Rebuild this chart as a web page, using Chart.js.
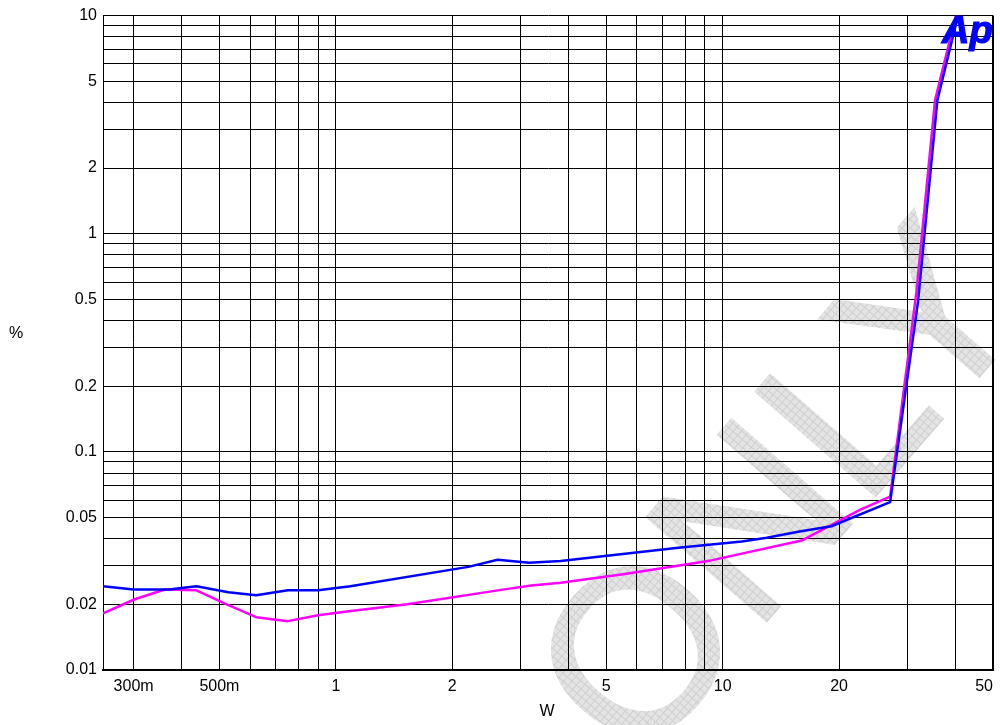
<!DOCTYPE html>
<html>
<head>
<meta charset="utf-8">
<script src="https://cdn.jsdelivr.net/npm/chart.js@4.4.1/dist/chart.umd.min.js"></script>
<style>
  html, body { margin: 0; padding: 0; background: #fff; }
</style>
</head>
<body>
<canvas id="chart" width="1000" height="725"></canvas>
<script>
// power sweep, THD+N (%) vs output power (W)
const blueW   = [0.25, 0.30, 0.37, 0.436, 0.527, 0.622, 0.752, 0.899, 1.09, 2.20, 2.62, 3.16, 3.81, 7.68, 11.2, 13.0, 15.8, 19.1, 27.1, 32.0, 35.9, 40.6];
const bluePct = [0.0242, 0.0234, 0.0234, 0.0242, 0.0227, 0.0220, 0.0232, 0.0232, 0.0242, 0.0297, 0.0320, 0.0310, 0.0316, 0.0363, 0.0388, 0.0404, 0.0431, 0.0456, 0.0588, 0.489, 4.09, 10.0];

const pinkW   = [0.25, 0.302, 0.361, 0.436, 0.515, 0.622, 0.752, 0.899, 1.08, 1.53, 2.675, 3.20, 3.81, 5.53, 9.34, 16.0, 22.7, 27.1, 31.7, 35.4, 40.1];
const pinkPct = [0.0182, 0.0211, 0.0234, 0.0232, 0.0202, 0.01746, 0.01675, 0.01783, 0.0186, 0.0200, 0.0233, 0.0244, 0.0251, 0.0275, 0.0318, 0.0392, 0.0543, 0.0623, 0.543, 4.09, 10.0];

// grid lines and labelled ticks
const xGrid = [0.25, 0.3, 0.4, 0.5, 0.6, 0.7, 0.8, 0.9, 1, 2, 3, 4, 5, 6, 7, 8, 9, 10, 20, 30, 40, 50];
const xLabelled = { 0.3: '300m', 0.5: '500m', 1: '1', 2: '2', 5: '5', 10: '10', 20: '20', 50: '50' };
const yGrid = [0.01, 0.02, 0.03, 0.04, 0.05, 0.06, 0.07, 0.08, 0.09, 0.1, 0.2, 0.3, 0.4, 0.5, 0.6, 0.7, 0.8, 0.9, 1, 2, 3, 4, 5, 6, 7, 8, 9, 10];
const yLabelled = { 0.01: '0.01', 0.02: '0.02', 0.05: '0.05', 0.1: '0.1', 0.2: '0.2', 0.5: '0.5', 1: '1', 2: '2', 5: '5', 10: '10' };

const FONT = '"Liberation Sans", Arial, sans-serif';

function pts(xs, ys) {
  return xs.map((x, i) => ({ x: x, y: ys[i] }));
}

// hatched light grey fill for the watermark
function hatch() {
  const c = document.createElement('canvas');
  c.width = 6; c.height = 6;
  const g = c.getContext('2d');
  g.fillStyle = '#e4e4e4';
  g.fillRect(0, 0, 6, 6);
  g.fillStyle = '#cfcfcf';
  g.fillRect(0, 0, 6, 1);
  g.fillRect(0, 0, 1, 6);
  return c;
}

const decor = {
  id: 'decor',
  beforeDraw(chart) {
    const ctx = chart.ctx;
    ctx.save();
    ctx.fillStyle = '#fff';
    ctx.fillRect(0, 0, chart.width, chart.height);
    // watermark
    ctx.translate(637, 770);
    ctx.rotate(-49 * Math.PI / 180);
    ctx.font = '230px ' + FONT;
    const pat = ctx.createPattern(hatch(), 'repeat');
    ctx.fillStyle = pat;
    ctx.strokeStyle = pat;
    ctx.lineWidth = 3;
    ctx.textBaseline = 'alphabetic';
    ctx.textAlign = 'left';
    ctx.fillText('ONLY', 0, 0);
    ctx.strokeText('ONLY', 0, 0);
    ctx.restore();
  },
  afterDraw(chart) {
    const ctx = chart.ctx;
    ctx.save();
    ctx.fillStyle = '#000';
    ctx.font = '16px ' + FONT;
    ctx.textAlign = 'center';
    ctx.textBaseline = 'middle';
    ctx.fillText('%', 16, 334);
    ctx.fillText('W', 547, 712);
    // Ap logo
    ctx.fillStyle = '#0000ff';
    ctx.strokeStyle = '#0000ff';
    ctx.lineWidth = 1.2;
    ctx.font = 'italic bold 38px ' + FONT;
    ctx.textAlign = 'left';
    ctx.textBaseline = 'alphabetic';
    ctx.fillText('Ap', 942, 43);
    ctx.strokeText('Ap', 942, 43);
    ctx.restore();
  }
};

new Chart(document.getElementById('chart'), {
  type: 'line',
  data: {
    datasets: [
      { data: pts(blueW, bluePct), borderColor: '#0000ff', borderWidth: 2.5 },
      { data: pts(pinkW, pinkPct), borderColor: '#ff00ff', borderWidth: 2.5 }
    ]
  },
  options: {
    responsive: false,
    animation: false,
    events: [],
    layout: { padding: { top: 13, right: 4, left: 0, bottom: 0 } },
    elements: { point: { radius: 0 }, line: { tension: 0, borderJoinStyle: 'round' } },
    plugins: { legend: { display: false }, tooltip: { enabled: false } },
    scales: {
      x: {
        type: 'logarithmic',
        min: 0.25,
        max: 50,
        afterBuildTicks: s => { s.ticks = xGrid.map(v => ({ value: v })); },
        afterFit: s => { s.height = 55; },
        grid: {
          color: '#000',
          lineWidth: c => (c.tick && c.tick.value === 50 ? 2 : 1),
          drawTicks: false
        },
        border: { color: '#000', width: 2 },
        ticks: {
          autoSkip: false,
          maxRotation: 0,
          align: 'inner',
          padding: 7,
          color: '#000',
          font: { family: FONT, size: 16 },
          callback: v => xLabelled[v] || ''
        }
      },
      y: {
        type: 'logarithmic',
        min: 0.01,
        max: 10,
        afterBuildTicks: s => { s.ticks = yGrid.map(v => ({ value: v })); },
        afterFit: s => { s.width = 103; },
        grid: { color: '#000', lineWidth: 1, drawTicks: false },
        border: { color: '#000', width: 1 },
        ticks: {
          autoSkip: false,
          padding: 6,
          color: '#000',
          font: { family: FONT, size: 16 },
          callback: v => yLabelled[v] || ''
        }
      }
    }
  },
  plugins: [decor]
});
</script>
</body>
</html>
